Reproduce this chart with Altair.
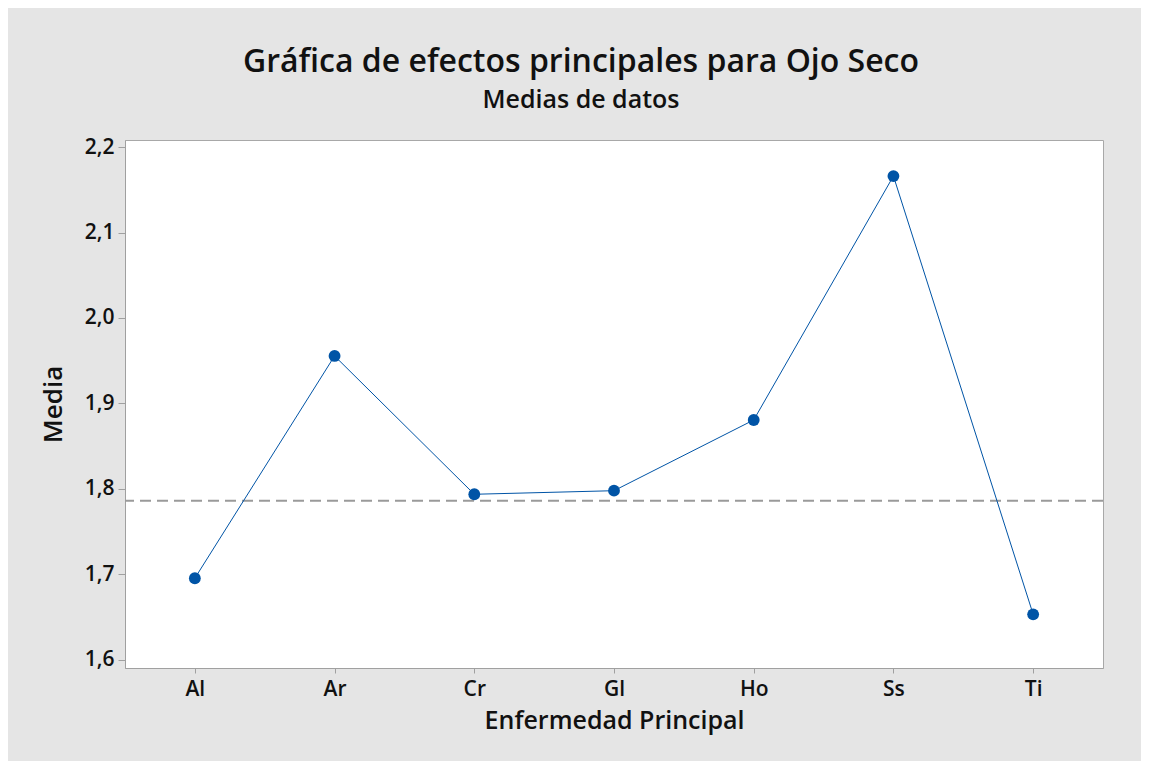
import altair as alt
import pandas as pd

categorias = ["Al", "Ar", "Cr", "Gl", "Ho", "Ss", "Ti"]
medias = [1.6956, 1.9556, 1.7938, 1.7980, 1.8807, 2.1660, 1.6534]
media_general = [1.7863]
ticks_y = [1.6, 1.7, 1.8, 1.9, 2.0, 2.1, 2.2]

df = pd.DataFrame({"Enfermedad Principal": categorias, "Media": medias})
df_ref = pd.DataFrame({"m": media_general})

FONT = "Open Sans"
AZUL = "#0054a6"

x_enc = alt.X(
    "Enfermedad Principal:N",
    sort=categorias,
    scale=alt.Scale(type="point", padding=0.5),
    axis=alt.Axis(
        title="Enfermedad Principal",
        labelAngle=0,
        labelFont=FONT,
        labelFontSize=21,
        labelFontWeight=600,
        labelColor="#111111",
        labelPadding=5,
        tickSize=5,
        tickColor="#a0a0a0",
        domainColor="#a0a0a0",
        titleFont=FONT,
        titleFontSize=25,
        titleFontWeight=600,
        titleColor="#111111",
        titlePadding=9,
        grid=False,
    ),
)
y_scale = alt.Scale(domain=[1.5906, 2.2082], nice=False, zero=False)
y_enc = alt.Y(
    "Media:Q",
    scale=y_scale,
    axis=alt.Axis(
        title="Media",
        values=ticks_y,
        format=".1f",
        labelExpr="replace(datum.label, '.', ',')",
        labelFont=FONT,
        labelFontSize=21,
        labelFontWeight=600,
        labelColor="#111111",
        labelPadding=4,
        tickSize=7,
        tickColor="#a0a0a0",
        domainColor="#a0a0a0",
        titleFont=FONT,
        titleFontSize=26,
        titleFontWeight=600,
        titleColor="#111111",
        titlePadding=18,
        grid=False,
    ),
)

linea = alt.Chart(df).mark_line(color=AZUL, strokeWidth=1).encode(x=x_enc, y=y_enc)
puntos = alt.Chart(df).mark_circle(color=AZUL, size=140, opacity=1).encode(x=x_enc, y=y_enc)
ref = alt.Chart(df_ref).mark_rule(color="#9a9a9a", strokeWidth=2, strokeDash=[11, 6]).encode(
    y=alt.Y("m:Q", scale=y_scale)
)

chart = (
    alt.layer(ref, linea, puntos)
    .properties(
        width=978,
        height=528,
        background="#e5e5e5",
        padding={"left": 117, "top": 132, "right": 38, "bottom": 93},
        autosize=alt.AutoSizeParams(type="none"),
        title=alt.TitleParams(
            text="Gráfica de efectos principales para Ojo Seco",
            subtitle="Medias de datos",
            font=FONT,
            fontSize=32,
            fontWeight=600,
            color="#111111",
            subtitleFont=FONT,
            subtitleFontSize=25,
            subtitleFontWeight=600,
            subtitleColor="#111111",
            subtitlePadding=9,
            anchor="middle",
            frame="group",
            dx=-33,
            offset=22,
        ),
    )
    .configure_view(stroke="#a8a8a8", strokeWidth=1, fill="white")
)

chart.save("out.html", embed_options={"renderer": "svg", "actions": False})
